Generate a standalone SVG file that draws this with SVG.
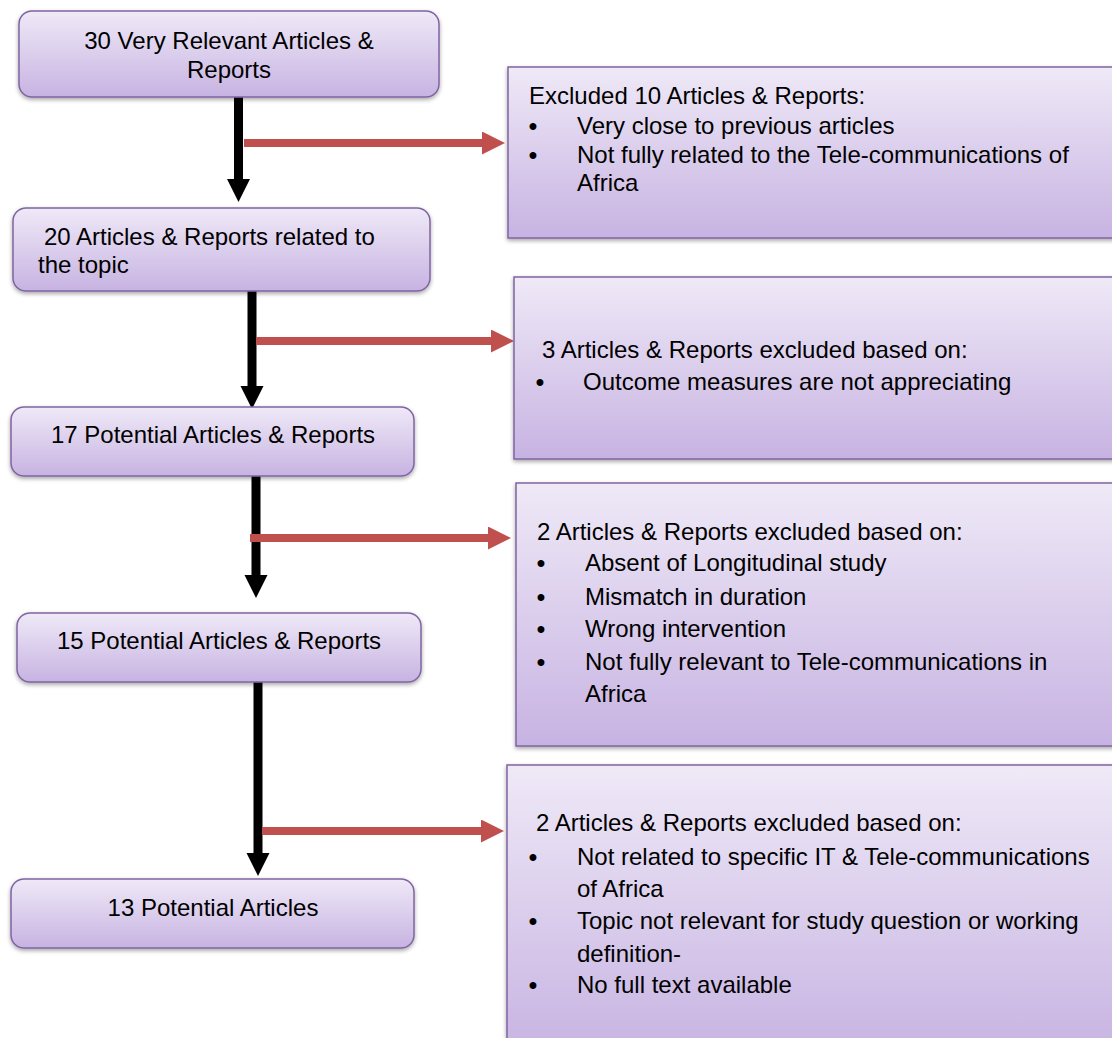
<svg xmlns="http://www.w3.org/2000/svg" width="1112" height="1038" viewBox="0 0 1112 1038">
<defs>
<linearGradient id="fillGrad" x1="0" y1="0" x2="0" y2="1">
<stop offset="0" stop-color="#efe9f7"/>
<stop offset="1" stop-color="#c7b3e2"/>
</linearGradient>
<filter id="shadow" x="-5%" y="-10%" width="110%" height="130%">
<feDropShadow dx="0" dy="2" stdDeviation="2" flood-color="#000" flood-opacity="0.35"/>
</filter>
<marker id="headBlack" markerUnits="userSpaceOnUse" markerWidth="24" markerHeight="24" refX="0" refY="11.5" orient="auto">
<path d="M0,0 L23,11.5 L0,23 z" fill="#000"/>
</marker>
<marker id="headRed" markerUnits="userSpaceOnUse" markerWidth="24" markerHeight="24" refX="0" refY="11.5" orient="auto">
<path d="M0,0 L23,11.5 L0,23 z" fill="#c0504d"/>
</marker>
</defs>
<style>
.node{fill:url(#fillGrad);stroke:#8064a2;stroke-width:1.5;filter:url(#shadow)}
text{font-family:"Liberation Sans",Arial,sans-serif;font-size:24px;fill:#000}
.c{text-anchor:middle}
.b{text-anchor:middle;font-weight:bold}
.down{stroke:#000;stroke-width:9;fill:none;marker-end:url(#headBlack)}
.right{stroke:#c0504d;stroke-width:8;fill:none;marker-end:url(#headRed)}
</style>

<g id="connectors">
<line class="down" x1="238.5" y1="97" x2="238.5" y2="179"/>
<line class="right" x1="244" y1="143" x2="482" y2="143"/>
<line class="down" x1="252" y1="291" x2="252" y2="386"/>
<line class="right" x1="256" y1="341" x2="491" y2="341"/>
<line class="down" x1="256" y1="476" x2="256" y2="575"/>
<line class="right" x1="250" y1="538" x2="488" y2="538"/>
<line class="down" x1="258" y1="682" x2="258" y2="853"/>
<line class="right" x1="262" y1="831" x2="481" y2="831"/>
</g>

<g id="n1">
<rect class="node" x="19" y="11" width="420" height="86" rx="13"/>
<text class="c" x="229" y="49">30 Very Relevant Articles &amp;</text>
<text class="c" x="229" y="78">Reports</text>
</g>

<g id="x1">
<rect class="node" x="508" y="67" width="620" height="171"/>
<text x="529" y="104">Excluded 10 Articles &amp; Reports:</text>
<text class="b" x="533" y="134">•</text>
<text x="577" y="134">Very close to previous articles</text>
<text class="b" x="533" y="163">•</text>
<text x="577" y="163">Not fully related to the Tele-communications of</text>
<text x="577" y="191">Africa</text>
</g>

<g id="n2">
<rect class="node" x="13" y="208" width="417" height="83" rx="13"/>
<text x="44" y="245">20 Articles &amp; Reports related to</text>
<text x="38" y="273">the topic</text>
</g>

<g id="x2">
<rect class="node" x="514" y="277" width="614" height="182"/>
<text x="542" y="358">3 Articles &amp; Reports excluded based on:</text>
<text class="b" x="540" y="390">•</text>
<text x="583" y="390">Outcome measures are not appreciating</text>
</g>

<g id="n3">
<rect class="node" x="11" y="407" width="403" height="69" rx="13"/>
<text class="c" x="213" y="443">17 Potential Articles &amp; Reports</text>
</g>

<g id="x3">
<rect class="node" x="516" y="483" width="612" height="263"/>
<text x="537" y="540">2 Articles &amp; Reports excluded based on:</text>
<text class="b" x="541" y="571">•</text>
<text x="585" y="571">Absent of Longitudinal study</text>
<text class="b" x="541" y="605">•</text>
<text x="585" y="605">Mismatch in duration</text>
<text class="b" x="541" y="637">•</text>
<text x="585" y="637">Wrong intervention</text>
<text class="b" x="541" y="670">•</text>
<text x="585" y="670">Not fully relevant to Tele-communications in</text>
<text x="585" y="702">Africa</text>
</g>

<g id="n4">
<rect class="node" x="17" y="613" width="404" height="69" rx="13"/>
<text class="c" x="219" y="649">15 Potential Articles &amp; Reports</text>
</g>

<g id="x4">
<rect class="node" x="507" y="765" width="621" height="290"/>
<text x="536" y="831">2 Articles &amp; Reports excluded based on:</text>
<text class="b" x="533" y="865">•</text>
<text x="577" y="865">Not related to specific IT &amp; Tele-communications</text>
<text x="577" y="897">of Africa</text>
<text class="b" x="533" y="929">•</text>
<text x="577" y="929">Topic not relevant for study question or working</text>
<text x="577" y="962">definition-</text>
<text class="b" x="533" y="993">•</text>
<text x="577" y="993">No full text available</text>
</g>

<g id="n5">
<rect class="node" x="11" y="879" width="403" height="69" rx="13"/>
<text class="c" x="213" y="916">13 Potential Articles</text>
</g>
</svg>
